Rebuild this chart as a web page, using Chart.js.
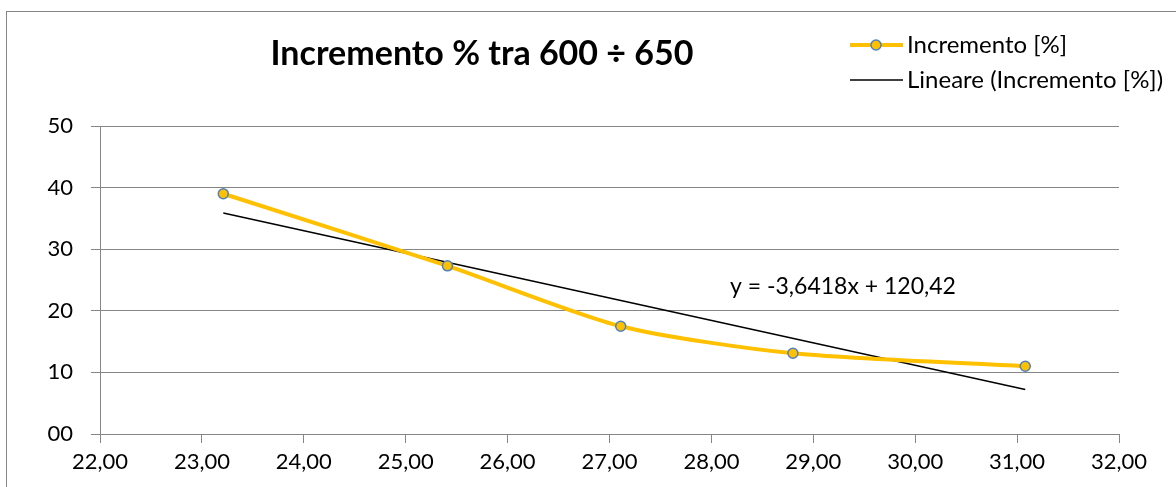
<!DOCTYPE html>
<html>
<head>
<meta charset="utf-8">
<script src="https://cdn.jsdelivr.net/npm/chart.js@4.4.1/dist/chart.umd.min.js"></script>
<style>
  html, body { margin: 0; padding: 0; background: #fff; }
  #wrap { width: 1176px; height: 487px; position: relative; }
</style>
</head>
<body>
<div id="wrap"><canvas id="grafico"></canvas></div>
<script>
// dati misurati
const spessore = [23.21, 25.41, 27.11, 28.80, 31.08];
const incremento = [39.0, 27.3, 17.5, 13.1, 11.0];
const xTicks = [22, 23, 24, 25, 26, 27, 28, 29, 30, 31, 32];
const yTicks = [0, 10, 20, 30, 40, 50];

// retta di tendenza (lineare) dall'equazione riportata
const pendenza = -3.6418;
const intercetta = 120.42;
const titolo = "Incremento % tra 600 ÷ 650";
const nomeSerie = "Incremento [%]";
const nomeTrend = "Lineare (Incremento [%])";
const equazione = "y = -3,6418x + 120,42";

const giallo = "#FFC000";
const bluBordo = "#4F81BD";
const grigio = "#868686";
const font = "Lato, Carlito, Calibri, sans-serif";

const xFirst = spessore[0];
const xLast = spessore[spessore.length - 1];
const trend = [
  { x: xFirst, y: pendenza * xFirst + intercetta },
  { x: xLast, y: pendenza * xLast + intercetta },
];

const fmtX = (v) => v.toFixed(2).replace(".", ",");
const fmtY = (v) => String(v).padStart(2, "0");

// titolo, legenda, equazione e cornice
const decorazioni = {
  id: "decorazioni",
  beforeDraw(chart) {
    const ctx = chart.ctx;
    ctx.save();
    ctx.fillStyle = "#fff";
    ctx.fillRect(0, 0, chart.width, chart.height);
    ctx.strokeStyle = grigio;
    ctx.lineWidth = 1;
    ctx.strokeRect(6.5, 11.5, chart.width + 10, chart.height + 10);
    ctx.restore();
  },
  afterDraw(chart) {
    const ctx = chart.ctx;
    ctx.save();
    ctx.fillStyle = "#000";
    ctx.textBaseline = "middle";

    ctx.font = "bold 34px " + font;
    ctx.textAlign = "center";
    ctx.fillText(titolo, 482, 54);

    // legenda
    ctx.textAlign = "left";
    ctx.font = "24px " + font;
    ctx.strokeStyle = giallo;
    ctx.lineWidth = 4;
    ctx.beginPath();
    ctx.moveTo(850, 45);
    ctx.lineTo(903, 45);
    ctx.stroke();
    ctx.beginPath();
    ctx.arc(876, 45, 5, 0, Math.PI * 2);
    ctx.fillStyle = giallo;
    ctx.fill();
    ctx.strokeStyle = bluBordo;
    ctx.lineWidth = 1.5;
    ctx.stroke();
    ctx.fillStyle = "#000";
    ctx.fillText(nomeSerie, 907, 45);

    ctx.strokeStyle = "#000";
    ctx.lineWidth = 1.5;
    ctx.beginPath();
    ctx.moveTo(850, 80);
    ctx.lineTo(903, 80);
    ctx.stroke();
    ctx.fillText(nomeTrend, 907, 80);

    // equazione della retta
    ctx.font = "23px " + font;
    ctx.fillText(equazione, 730, 287);
    ctx.restore();
  },
};

new Chart("grafico", {
  type: "scatter",
  data: {
    datasets: [
      {
        label: nomeTrend,
        data: trend,
        showLine: true,
        borderColor: "#000",
        borderWidth: 1.5,
        pointRadius: 0,
        order: 2,
      },
      {
        label: nomeSerie,
        data: spessore.map((x, i) => ({ x: x, y: incremento[i] })),
        showLine: true,
        tension: 0.25,
        borderColor: giallo,
        borderWidth: 4,
        pointRadius: 5,
        pointBackgroundColor: giallo,
        pointBorderColor: bluBordo,
        pointBorderWidth: 1.5,
        order: 1,
      },
    ],
  },
  options: {
    responsive: true,
    maintainAspectRatio: false,
    animation: false,
    layout: { padding: { top: 126, right: 57, left: 0, bottom: 0 } },
    plugins: {
      legend: { display: false },
      tooltip: { enabled: false },
    },
    scales: {
      x: {
        type: "linear",
        min: 22,
        max: 32,
        afterBuildTicks: (s) => { s.ticks = xTicks.map((v) => ({ value: v })); },
        afterFit: (s) => { s.height = 53; },
        ticks: {
          callback: fmtX,
          color: "#000",
          padding: 6,
          maxRotation: 0,
          font: { family: font, size: 22 },
        },
        grid: { drawOnChartArea: false, drawTicks: true, tickLength: 9, color: grigio },
        border: { color: grigio, width: 1 },
      },
      y: {
        min: 0,
        max: 50,
        afterBuildTicks: (s) => { s.ticks = yTicks.map((v) => ({ value: v })); },
        afterFit: (s) => { s.width = 100; },
        ticks: {
          callback: fmtY,
          color: "#000",
          padding: 18,
          font: { family: font, size: 22 },
        },
        grid: { color: grigio, tickLength: 9, lineWidth: 1 },
        border: { color: grigio, width: 1 },
      },
    },
  },
  plugins: [decorazioni],
});
</script>
</body>
</html>
